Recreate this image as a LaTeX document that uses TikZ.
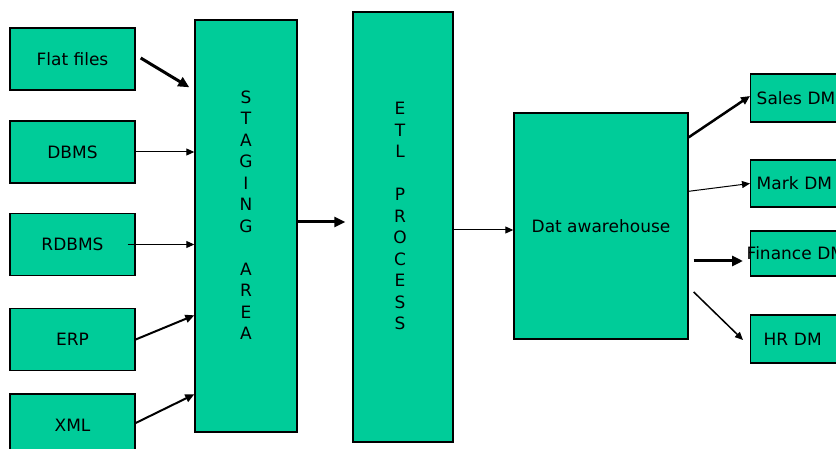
\documentclass[tikz,border=0pt]{standalone}
\usepackage{fontspec}
\setmainfont{DejaVu Sans}
\usetikzlibrary{arrows.meta,calc}
\definecolor{boxgreen}{RGB}{0,204,153}
\tikzset{
  box/.style={draw=black, line width=1.4pt, fill=boxgreen, inner sep=0pt,
    font=\fontsize{17}{21.5}\selectfont},
  srcbox/.style={box, minimum width=125pt, minimum height=62pt},
  dmbox/.style={box, anchor=west, minimum width=100pt, text width=88pt,
    align=left, inner xsep=6pt},
  vtext/.style={font=\fontsize{17}{21.5}\selectfont, align=center, inner sep=0pt},
  link/.style={draw=black, line width=1pt, -{Triangle[length=8pt,width=7pt]}},
  midlink/.style={link, line width=2pt, -{Triangle[length=9pt,width=8pt]}},
  heavylink/.style={link, line width=3pt, -{Triangle[length=11pt,width=10pt]}},
}
\begin{document}
\begin{tikzpicture}[x=1pt, y=-1pt]
  \useasboundingbox (0,0) rectangle (836,449);
  \clip (0,0) rectangle (836,449);
  \fill[white] (0,0) rectangle (836,449);

  % data sources
  \node[srcbox] (flat)  at (72.5,59)    {Flat files};
  \node[srcbox] (dbms)  at (72.5,152)   {DBMS};
  \node[srcbox] (rdbms) at (72.5,244.5) {RDBMS};
  \node[srcbox] (erp)   at (72.5,339.5) {ERP};
  \node[srcbox] (xml)   at (72.5,425)   {XML};

  % staging and ETL columns
  \node[box, minimum width=102pt, minimum height=412pt] (staging) at (246,226) {};
  \node[vtext] (stagingtxt) at (246,215)
    {S\\T\\A\\G\\I\\N\\G\\[21.5pt]A\\R\\E\\A};
  \node[box, minimum width=100pt, minimum height=430pt] (etl) at (403,227) {};
  \node[vtext] (etltxt) at (400,216)
    {E\\T\\L\\[21.5pt]P\\R\\O\\C\\E\\S\\S};

  % warehouse
  \node[box, minimum width=174pt, minimum height=226pt] (dw) at (601,226) {Dat awarehouse};

  % data marts
  \node[dmbox, minimum height=48pt] (sales)   at (750,98)    {Sales DM};
  \node[dmbox, minimum height=47pt] (mark)    at (750,183.5) {Mark DM};
  \node[dmbox, minimum height=45pt, inner xsep=-4pt, text width=108pt] (finance) at (750,253.5) {Finance DM};
  \node[dmbox, minimum height=48pt, inner xsep=13pt, text width=74pt] (hr) at (750,339) {HR DM};

  % sources into staging
  \draw[heavylink] ($(flat.east)+(5,-1)$) -- ($(staging.north west)+(-5,68)$);
  \draw[link] (dbms.east) -- (dbms.east -| staging.west);
  \draw[link] ($(rdbms.east)+(-8,0)$) -- (rdbms.east -| staging.west);
  \draw[midlink] (erp.east) -- ($(staging.north west)+(0,296)$);
  \draw[midlink] ($(xml.east)+(0,-2)$) -- ($(staging.north west)+(0,375)$);

  % staging -> ETL -> warehouse
  \draw[heavylink] ($(staging.east)+(0,-4)$) -- ($(etl.west)+(-7,-5)$);
  \coordinate (etlout) at ($(etl.east)+(0,3)$);
  \draw[link] (etlout) -- (etlout -| dw.west);

  % warehouse into data marts
  \draw[midlink, line width=2.5pt] ($(dw.north east)+(0,25)$) -- ($(sales.west)+(0,-2)$);
  \draw[link] ($(dw.north east)+(0,79)$) -- (mark.west);
  \draw[heavylink] ($(dw.east)+(5,35)$) -- ($(finance.west)+(-7,7.5)$);
  \draw[link, line width=1.5pt] ($(dw.east)+(5,66)$) -- ($(hr.west)+(-7,1)$);
\end{tikzpicture}
\end{document}
